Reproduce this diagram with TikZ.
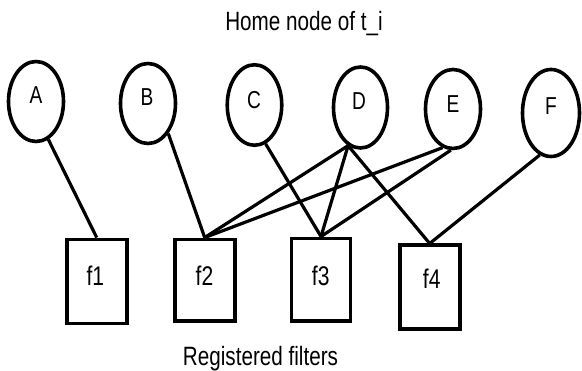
\documentclass[tikz,border=0pt]{standalone}
\usepackage{fontspec}
\setmainfont{Liberation Sans}[FakeStretch=0.78]
\usetikzlibrary{shapes.geometric}
\begin{document}
\begin{tikzpicture}[x=1pt,y=-1pt,
  home/.style={ellipse,draw,line width=3.6pt,inner sep=0pt},
  filter/.style={rectangle,draw,line width=3.6pt,inner sep=0pt,minimum width=60pt},
  link/.style={line width=3.2pt},
  lab/.style={inner sep=0pt,anchor=base,font=\fontsize{24.5}{28}\selectfont},
  flab/.style={inner sep=0pt,anchor=base,font=\fontsize{27}{31}\selectfont},
  caption/.style={inner sep=0pt,anchor=base,font=\fontsize{26.5}{31}\selectfont}]
\useasboundingbox (0,0) rectangle (582,371);

% home nodes
\node[home,minimum width=55pt,minimum height=80pt] (A) at (36,101.5) {};
\node[home,minimum width=55pt,minimum height=80pt] (B) at (148,103.5) {};
\node[home,minimum width=54.5pt,minimum height=80.5pt] (C) at (254.5,105) {};
\node[home,minimum width=54pt,minimum height=81pt] (D) at (360.5,107.5) {};
\node[home,minimum width=55pt,minimum height=79pt] (E) at (453,109) {};
\node[home,minimum width=57pt,minimum height=87pt] (F) at (551,113) {};
\node[lab] (Al) at (36,104) {A};
\node[lab] (Bl) at (147,106) {B};
\node[lab] (Cl) at (254,108.3) {C};
\node[lab] (Dl) at (359,110) {D};
\node[lab] (El) at (453,112.7) {E};
\node[lab] (Fl) at (551,115) {F};

% registered filters
\node[filter,minimum height=84.3pt] (f1) at (96.7,281.5) {};
\node[filter,minimum height=81.7pt] (f2) at (204.7,280.2) {};
\node[filter,minimum width=59.3pt,minimum height=82.7pt] (f3) at (321,279.7) {};
\node[filter,minimum height=84pt] (f4) at (429.7,287.3) {};
\node[flab] (f1l) at (95.3,286) {f1};
\node[flab] (f2l) at (204.5,286) {f2};
\node[flab] (f3l) at (320.7,286) {f3};
\node[flab] (f4l) at (431.7,288.7) {f4};

% captions
\node[caption] (top) at (304,30.7) {Home node of t\_i};
\node[caption] (bottom) at (260.5,366) {Registered filters};

% links
\draw[link] (A.288) -- (f1.north);
\draw[link] (B.304) -- (f2.north);
\draw[link] (C.286) -- (f3.north);
\draw[link] (D.252) -- (f2.north);
\draw[link] (D.252) -- (f3.north);
\draw[link] (D.252) -- (f4.north);
\draw[link] (E.255) -- (f2.north);
\draw[link] (E.267) -- (f3.north);
\draw[link] (F.255) -- (f4.north);
\end{tikzpicture}
\end{document}
